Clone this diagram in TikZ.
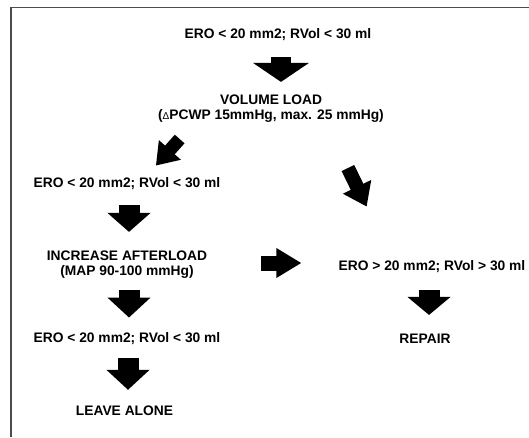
\documentclass[tikz,border=0pt]{standalone}
\usepackage{fontspec}
\setmainfont{Liberation Sans}
\usetikzlibrary{arrows.meta}

\begin{document}
\begin{tikzpicture}[x=1pt,y=-1pt,
  txt/.style={font=\bfseries\fontsize{13.8}{15}\selectfont, inner sep=0pt, align=center},
  blockarrow/.style n args={3}{line width=#1, -{Triangle[width=#2,length=#3]}},
  framecol/.style={black!70, line width=1.6pt}]

\useasboundingbox (0,0) rectangle (529,437);

\draw[framecol] (11,437) -- (11,7.5) -- (529,7.5);

\node[txt] (top) at (278,35) {ERO < 20 mm2; RVol < 30 ml};
\node[txt] (vol) at (271,109) {VOLUME LOAD\\({\mdseries\fontsize{10}{10}\selectfont Δ}PCWP 15mmHg, max. 25 mmHg)};
\node[txt] (left1) at (127,184) {ERO < 20 mm2; RVol < 30 ml};
\node[txt] (inc) at (127,265) {INCREASE AFTERLOAD\\(MAP 90-100 mmHg)};
\node[txt] (right1) at (432,267) {ERO > 20 mm2; RVol > 30 ml};
\node[txt] (left2) at (127,339) {ERO < 20 mm2; RVol < 30 ml};
\node[txt] (repair) at (425,339) {REPAIR};
\node[txt] (leave) at (124.5,411) {LEAVE ALONE};

\draw[blockarrow={20pt}{55pt}{19pt}, shorten <=16.2pt, shorten >=13.1pt]
  ([xshift=3pt]top.south) -- ([xshift=3pt]top.south |- vol.north);
\draw[blockarrow={13pt}{28pt}{21pt}, shorten <=21.5pt, shorten >=16.3pt]
  ([xshift=-77pt]vol.south) -- ([xshift=18pt]left1.north);
\draw[blockarrow={14pt}{30pt}{22pt}, shorten <=50.1pt, shorten >=60.2pt]
  ([xshift=55pt]vol.south) -- ([xshift=-39pt]right1.north);
\draw[blockarrow={21pt}{42pt}{19pt}, shorten <=15.2pt, shorten >=19.1pt]
  ([xshift=2pt]left1.south) -- ([xshift=2pt]left1.south |- inc.north);
\draw[blockarrow={15pt}{28pt}{25pt}, shorten <=54pt, shorten >=37pt]
  ([yshift=2pt]inc.east) -- ([yshift=2pt]inc.east -| right1.west);
\draw[blockarrow={21pt}{42pt}{20pt}, shorten <=11.2pt, shorten >=15.2pt]
  ([xshift=2pt]inc.south) -- ([xshift=2pt]inc.south |- left2.north);
\draw[blockarrow={21pt}{42pt}{18pt}, shorten <=17.2pt, shorten >=19.1pt]
  ([xshift=-3pt]right1.south) -- ([xshift=-3pt]right1.south |- repair.north);
\draw[blockarrow={21pt}{42pt}{20pt}, shorten <=13.2pt, shorten >=16.1pt]
  ([xshift=1pt]left2.south) -- ([xshift=1pt]left2.south |- leave.north);

\end{tikzpicture}
\end{document}
